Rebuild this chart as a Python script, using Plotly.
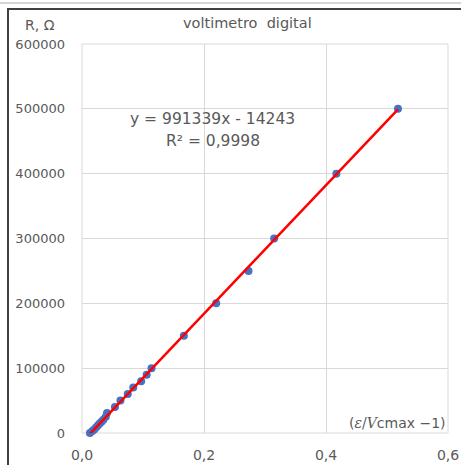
import plotly.graph_objects as go

# Data
ratio = [0.013, 0.017, 0.020, 0.023, 0.026, 0.029, 0.032, 0.035, 0.039, 0.041,
         0.054, 0.063, 0.075, 0.084, 0.097, 0.106, 0.114, 0.167, 0.220, 0.273,
         0.315, 0.417, 0.518]
resistance = [0, 3000, 5500, 8500, 11500, 14500, 17500, 20500, 25000, 31000,
              40000, 50000, 60000, 70000, 80000, 90000, 100000, 150000, 200000, 250000,
              300000, 400000, 500000]
slope = 991339
intercept = -14243
r2_text = "0,9998"
x_ticks = [0, 0.2, 0.4, 0.6]
y_ticks = [0, 100000, 200000, 300000, 400000, 500000, 600000]

FONT = "DejaVu Sans"
GREY = "#595959"

line_x = [min(ratio), max(ratio)]
line_y = [slope * v + intercept for v in line_x]

fig = go.Figure()
fig.add_trace(go.Scatter(x=ratio, y=resistance, mode="markers",
                         marker=dict(color="#4472C4", size=8, line=dict(width=0)),
                         showlegend=False, hoverinfo="skip", cliponaxis=False))
fig.add_trace(go.Scatter(x=line_x, y=line_y, mode="lines",
                         line=dict(color="#FF0000", width=2.5),
                         showlegend=False, hoverinfo="skip", cliponaxis=False))

fig.update_layout(
    width=461, height=465,
    margin=dict(l=82, r=13, t=44, b=32, autoexpand=False),
    paper_bgcolor="white", plot_bgcolor="white",
    separators=", ",
    font=dict(family=FONT, size=13, color=GREY),
    xaxis=dict(range=[0, 0.6], tickvals=x_ticks, tickformat=".1f",
               showgrid=True, gridcolor="#D9D9D9", gridwidth=1,
               zeroline=False, showline=False, ticks="", automargin=False,
               ticklabelstandoff=12, tickfont=dict(family=FONT, size=14, color=GREY)),
    yaxis=dict(range=[0, 600000], tickvals=y_ticks, tickformat="d",
               showgrid=True, gridcolor="#D9D9D9", gridwidth=1,
               zeroline=False, showline=False, ticks="", automargin=False,
               ticklabelstandoff=16, tickfont=dict(family=FONT, size=13, color=GREY)),
)

# plot area border lines
for (x0, x1, y0, y1) in [(0, 1, 1, 1), (1, 1, 0, 1), (0, 0, 0, 1), (0, 1, 0, 0)]:
    fig.add_shape(type="line", xref="paper", yref="paper", x0=x0, x1=x1, y0=y0, y1=y1,
                  line=dict(color="#D9D9D9", width=1), layer="below")

def px_x(p):
    return (p - 82) / 366.0

def px_y(p):
    return (433 - p) / 389.0

# outer frame lines, as paper shapes
fig.add_shape(type="rect", xref="paper", yref="paper",
              x0=px_x(0), x1=px_x(461), y0=px_y(4), y1=px_y(2),
              line=dict(width=0), fillcolor="#D4D4D4")
fig.add_shape(type="rect", xref="paper", yref="paper",
              x0=px_x(7), x1=px_x(461), y0=px_y(10), y1=px_y(8),
              line=dict(width=0), fillcolor="#404040")
fig.add_shape(type="rect", xref="paper", yref="paper",
              x0=px_x(7), x1=px_x(9), y0=px_y(466), y1=px_y(8),
              line=dict(width=0), fillcolor="#404040")

ann = [
    dict(text="voltimetro  digital", x=px_x(247), y=px_y(23), size=14.5),
    dict(text="R, Ω", x=px_x(40), y=px_y(25), size=14),
    dict(text=f"y = {slope}x - {abs(intercept)}", x=px_x(212), y=px_y(119), size=15.5),
    dict(text=f"R² = {r2_text}", x=px_x(213), y=px_y(141), size=15.5),
]
for a in ann:
    fig.add_annotation(text=a["text"], x=a["x"], y=a["y"], xref="paper", yref="paper",
                       showarrow=False, xanchor="center", yanchor="middle",
                       font=dict(family=FONT, size=a["size"], color=GREY))

fig.add_annotation(
    text="(<span style='font-family:DejaVu Serif'><i>ε</i>/<i>V</i></span>cmax −1)",
    x=1, y=px_y(423), xref="paper", yref="paper", showarrow=False,
    xanchor="right", yanchor="middle",
    font=dict(family=FONT, size=14, color=GREY))

fig.write_html("out.html", config={"displayModeBar": False},
               post_script="document.body.style.margin='0';document.body.style.overflow='hidden';")
